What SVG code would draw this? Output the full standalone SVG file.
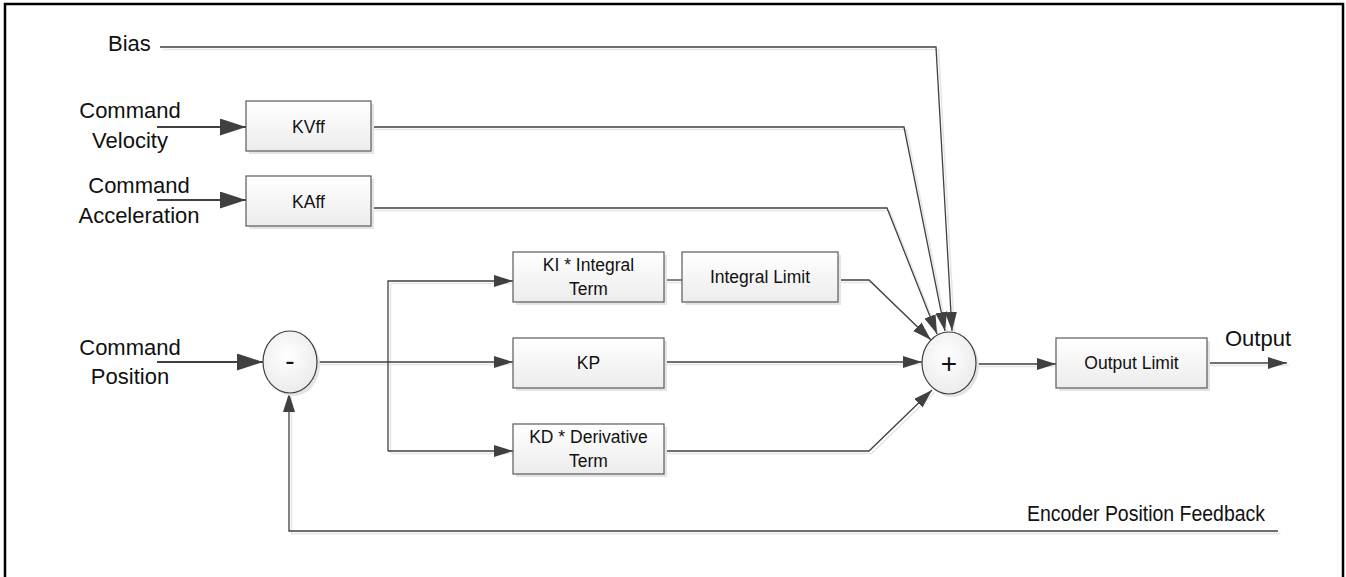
<svg xmlns="http://www.w3.org/2000/svg" xmlns:xlink="http://www.w3.org/1999/xlink" width="1346" height="577" viewBox="0 0 1346 577">
<style>
.frame{fill:none;stroke:#000;stroke-width:2.5}
.box{fill:url(#g);stroke:#5a5a5a;stroke-width:1.2}
.sh{fill:#e4e4e4;stroke:none}
.ln{fill:none;stroke:#404040;stroke-width:1.3}
.lns{fill:none;stroke:#e6e6e6;stroke-width:1.6}
.thick{fill:none;stroke:#404040;stroke-width:2.2}
.bt{font-family:"Liberation Sans",Arial,sans-serif;font-size:17.5px;fill:#111;text-anchor:middle}
.lt{font-family:"Liberation Sans",Arial,sans-serif;font-size:22px;fill:#111}
.sg{font-family:"Liberation Sans",Arial,sans-serif;font-size:28px;fill:#111;text-anchor:middle}
</style>
<defs>
<linearGradient id="g" x1="0" y1="0" x2="0" y2="1"><stop offset="0" stop-color="#ffffff"/><stop offset="1" stop-color="#ececec"/></linearGradient>
<radialGradient id="rg" cx="0.45" cy="0.4" r="0.7"><stop offset="0" stop-color="#ffffff"/><stop offset="1" stop-color="#e8e8e8"/></radialGradient>
<marker id="a" markerUnits="userSpaceOnUse" markerWidth="22" markerHeight="14" refX="19" refY="6" orient="auto"><path d="M0,0 L19,6 L0,12 Z" fill="#404040"/></marker>
<marker id="A" markerUnits="userSpaceOnUse" markerWidth="28" markerHeight="18" refX="26" refY="8.5" orient="auto"><path d="M0,0 L26,8.5 L0,17 Z" fill="#404040"/></marker>
</defs>
<rect class="frame" x="5" y="4" width="1338" height="600"/>

<g id="connectors">
<g transform="translate(2.5,2.5)">
<path class="lns" d="M160,47 H936 L952,331"/>
<path class="lns" d="M371,127 H904 L945,331"/>
<path class="lns" d="M371,208 H887 L937,334"/>
<path class="lns" d="M838,280 H869 L931,340"/>
<path class="lns" d="M664,362 H922"/>
<path class="lns" d="M664,451 H869 L932,390"/>
<path class="lns" d="M317,362 H513 M388,281 V451 M388,281 H513 M388,451 H513"/>
<path class="lns" d="M664,280 H682"/>
<path class="lns" d="M976,364 H1056 M1207,363 H1287"/>
<path class="lns" d="M1278,531 H289 V394"/>
</g>
<path class="ln" d="M160,47 H936 L952,331" marker-end="url(#a)"/>
<path class="ln" d="M371,127 H904 L945,331" marker-end="url(#a)"/>
<path class="ln" d="M371,208 H887 L937,334" marker-end="url(#a)"/>
<path class="ln" d="M838,280 H869 L931,340" marker-end="url(#a)"/>
<path class="ln" d="M664,362 H922" marker-end="url(#a)"/>
<path class="ln" d="M664,451 H869 L932,390" marker-end="url(#a)"/>
<path class="ln" d="M317,362 H388"/>
<path class="ln" d="M388,362 H513" marker-end="url(#a)"/>
<path class="ln" d="M388,451 V281 H513" marker-end="url(#a)"/>
<path class="ln" d="M388,451 H513" marker-end="url(#a)"/>
<path class="ln" d="M664,280 H682"/>
<path class="ln" d="M976,364 H1056" marker-end="url(#a)"/>
<path class="ln" d="M1207,363 H1287" marker-end="url(#a)"/>
<path class="ln" d="M1278,531 H289 V393" marker-end="url(#a)"/>
<path class="thick" d="M157,127 H246" marker-end="url(#A)"/>
<path class="thick" d="M157,200 H246" marker-end="url(#A)"/>
<path class="thick" d="M157,362 H263" marker-end="url(#A)"/>
</g>

<g id="bias-label"><text class="lt" x="108" y="51">Bias</text></g>
<g id="cmd-velocity-label"><text class="lt" x="130" y="118" text-anchor="middle">Command</text><text class="lt" x="130" y="148" text-anchor="middle">Velocity</text></g>
<g id="cmd-accel-label"><text class="lt" x="139" y="193" text-anchor="middle">Command</text><text class="lt" x="139" y="223" text-anchor="middle">Acceleration</text></g>
<g id="cmd-position-label"><text class="lt" x="130" y="355" text-anchor="middle">Command</text><text class="lt" x="130" y="384" text-anchor="middle">Position</text></g>
<g id="output-label"><text class="lt" x="1225" y="346">Output</text></g>
<g id="feedback-label"><text class="lt" x="1027" y="521" textLength="238" lengthAdjust="spacingAndGlyphs">Encoder Position Feedback</text></g>

<g id="kvff"><rect class="sh" x="249" y="104" width="125" height="50"/><rect class="box" x="246" y="101" width="125" height="50"/><text class="bt" x="308.5" y="132.5">KVff</text></g>
<g id="kaff"><rect class="sh" x="249" y="179" width="125" height="50"/><rect class="box" x="246" y="176" width="125" height="50"/><text class="bt" x="308.5" y="207.5">KAff</text></g>
<g id="ki"><rect class="sh" x="516" y="255" width="151" height="50"/><rect class="box" x="513" y="252" width="151" height="50"/><text class="bt" x="588.5" y="271">KI * Integral</text><text class="bt" x="588.5" y="295">Term</text></g>
<g id="intlimit"><rect class="sh" x="685" y="255" width="156" height="50"/><rect class="box" x="682" y="252" width="156" height="50"/><text class="bt" x="760" y="283">Integral Limit</text></g>
<g id="kp"><rect class="sh" x="516" y="341" width="151" height="50"/><rect class="box" x="513" y="338" width="151" height="50"/><text class="bt" x="588.5" y="369">KP</text></g>
<g id="kd"><rect class="sh" x="516" y="427" width="151" height="50"/><rect class="box" x="513" y="424" width="151" height="50"/><text class="bt" x="588.5" y="443">KD * Derivative</text><text class="bt" x="588.5" y="467">Term</text></g>
<g id="outlimit"><rect class="sh" x="1059" y="341" width="151" height="50"/><rect class="box" x="1056" y="338" width="151" height="50"/><text class="bt" x="1131.5" y="369">Output Limit</text></g>

<g id="minus"><ellipse class="sh" cx="293" cy="365" rx="27" ry="31"/><ellipse cx="290" cy="362" rx="27" ry="31" fill="url(#rg)" stroke="#404040" stroke-width="1.2"/><text class="sg" x="290" y="370">-</text></g>
<g id="plus"><ellipse class="sh" cx="952" cy="366" rx="27" ry="31"/><ellipse cx="949" cy="363" rx="27" ry="31" fill="url(#rg)" stroke="#404040" stroke-width="1.2"/><text class="sg" x="949" y="373">+</text></g>
</svg>
